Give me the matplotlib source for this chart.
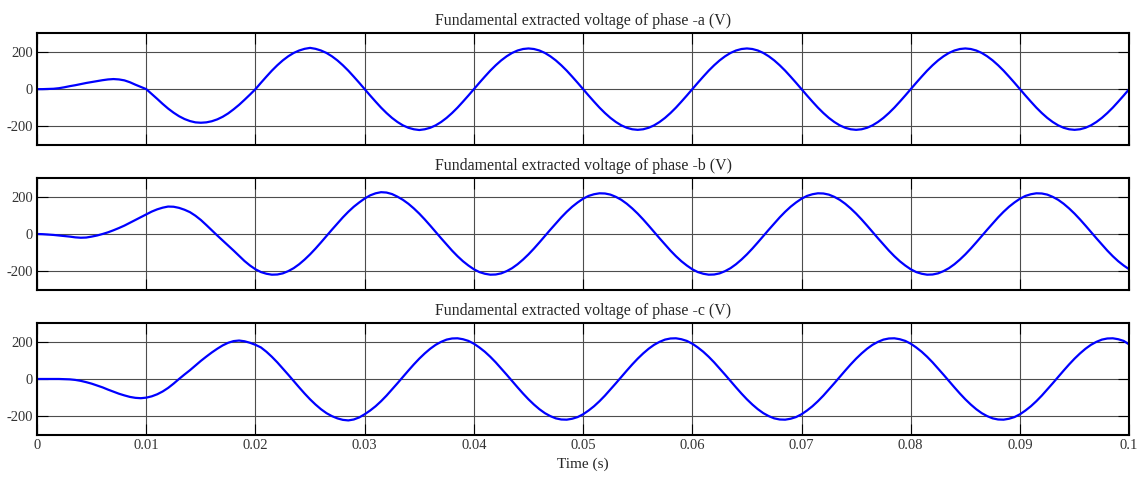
import numpy as np
import matplotlib
matplotlib.use("Agg")
import matplotlib.pyplot as plt

# time axis: 0 .. 0.1 s, one reading every 0.5 ms
time = np.arange(201) / 2000.0

# values (V), one row per 10 ms
phase_a = [
    0, 0, 1, 2, 5, 10, 16, 21, 27, 33, 38, 43, 48, 52, 54, 52, 47, 37, 24, 12,
    0, -26, -52, -79, -104, -126, -145, -160, -171, -178, -180, -178, -172, -162, -148, -130, -108, -84, -57, -29,
    0, 34, 67, 99, 128, 154, 176, 194, 207, 216, 221, 216, 207, 194, 176, 154, 128, 99, 67, 34,
    0, -34, -67, -99, -128, -154, -176, -194, -207, -215, -219, -215, -207, -194, -176, -154, -128, -99, -67, -34,
    0, 34, 67, 99, 128, 154, 176, 194, 207, 215, 218, 215, 207, 194, 176, 154, 128, 99, 67, 34,
    0, -34, -67, -99, -128, -154, -176, -194, -207, -215, -218, -215, -207, -194, -176, -154, -128, -99, -67, -34,
    0, 34, 67, 99, 128, 154, 176, 194, 207, 215, 218, 215, 207, 194, 176, 154, 128, 99, 67, 34,
    0, -34, -67, -99, -128, -154, -176, -194, -207, -215, -218, -215, -207, -194, -176, -154, -128, -99, -67, -34,
    0, 34, 67, 99, 128, 154, 176, 194, 207, 215, 218, 215, 207, 194, 176, 154, 128, 99, 67, 34,
    0, -34, -67, -99, -128, -154, -176, -194, -207, -215, -218, -215, -207, -194, -176, -154, -128, -99, -67, -34,
    0,
]

phase_b = [
    0, -1, -3, -5, -8, -11, -14, -18, -20, -19, -14, -8, 0, 9, 20, 32, 45, 60, 75, 90,
    105, 120, 132, 141, 147, 146, 140, 130, 117, 98, 75, 48, 20, -8, -35, -62, -89, -117, -145, -169,
    -189, -204, -213, -218, -217, -211, -199, -183, -162, -137, -109, -78, -45, -11, 23, 56, 89, 119, 146, 169,
    190, 207, 218, 224, 222, 214, 200, 183, 162, 137, 109, 78, 45, 11, -23, -56, -89, -119, -146, -169,
    -189, -204, -213, -218, -217, -211, -199, -183, -162, -137, -109, -78, -45, -11, 23, 56, 89, 119, 146, 169,
    189, 204, 213, 218, 217, 211, 199, 183, 162, 137, 109, 78, 45, 11, -23, -56, -89, -119, -146, -169,
    -189, -204, -213, -218, -217, -211, -199, -183, -162, -137, -109, -78, -45, -11, 23, 56, 89, 119, 146, 169,
    189, 204, 213, 218, 217, 211, 199, 183, 162, 137, 109, 78, 45, 11, -23, -56, -89, -119, -146, -169,
    -189, -204, -213, -218, -217, -211, -199, -183, -162, -137, -109, -78, -45, -11, 23, 56, 89, 119, 146, 169,
    189, 204, 213, 218, 217, 211, 199, 183, 162, 137, 109, 78, 45, 11, -23, -56, -89, -119, -146, -169,
    -189,
]

phase_c = [
    0, 0, 0, 0, 0, -1, -2, -5, -10, -17, -25, -35, -45, -57, -68, -79, -88, -96, -101, -103,
    -100, -93, -82, -67, -48, -25, 0, 24, 47, 72, 97, 120, 142, 162, 180, 194, 203, 206, 202, 194,
    183, 169, 146, 119, 89, 56, 23, -11, -45, -78, -109, -137, -162, -183, -199, -211, -219, -222, -217, -206,
    -189, -169, -146, -119, -89, -56, -23, 11, 45, 78, 109, 137, 162, 183, 199, 211, 217, 218, 213, 204,
    189, 169, 146, 119, 89, 56, 23, -11, -45, -78, -109, -137, -162, -183, -199, -211, -217, -218, -213, -204,
    -189, -169, -146, -119, -89, -56, -23, 11, 45, 78, 109, 137, 162, 183, 199, 211, 217, 218, 213, 204,
    189, 169, 146, 119, 89, 56, 23, -11, -45, -78, -109, -137, -162, -183, -199, -211, -217, -218, -213, -204,
    -189, -169, -146, -119, -89, -56, -23, 11, 45, 78, 109, 137, 162, 183, 199, 211, 217, 218, 213, 204,
    189, 169, 146, 119, 89, 56, 23, -11, -45, -78, -109, -137, -162, -183, -199, -211, -217, -218, -213, -204,
    -189, -169, -146, -119, -89, -56, -23, 11, 45, 78, 109, 137, 162, 183, 199, 211, 217, 218, 213, 204,
    185,
]

titles = [
    "Fundamental extracted voltage of phase -a (V)",
    "Fundamental extracted voltage of phase -b (V)",
    "Fundamental extracted voltage of phase -c (V)",
]
x_ticks = [0, 0.01, 0.02, 0.03, 0.04, 0.05, 0.06, 0.07, 0.08, 0.09, 0.1]
x_tick_labels = ["0", "0.01", "0.02", "0.03", "0.04", "0.05", "0.06", "0.07", "0.08", "0.09", "0.1"]
y_ticks = [-200, 0, 200]

plt.rcParams["font.family"] = ["Liberation Serif", "DejaVu Serif"]
plt.rcParams["axes.unicode_minus"] = False

fig = plt.figure(figsize=(11.4, 4.79), dpi=100)
bottoms = [0.697, 0.3946, 0.0919]
series = [phase_a, phase_b, phase_c]

for i, (b, y, title) in enumerate(zip(bottoms, series, titles)):
    ax = fig.add_axes([0.0325, b, 0.958, 0.2338])
    ax.plot(time, y, color="#0000ff", linewidth=1.6)
    ax.set_xlim(0, 0.1)
    ax.set_ylim(-300, 300)
    ax.set_xticks(x_ticks)
    ax.set_yticks(y_ticks)
    ax.grid(True, color="0.3", linewidth=0.8)
    ax.tick_params(direction="in", length=8, width=0.8, top=True, right=True,
                   labelsize=10.5, colors="black", labelcolor="0.2", pad=3)
    for s in ax.spines.values():
        s.set_linewidth(1.5)
    ax.set_title(title, fontsize=11.4, color="0.15", pad=6)
    if i < 2:
        ax.set_xticklabels([])
    else:
        ax.set_xticklabels(x_tick_labels)
        ax.set_xlabel("Time (s)", fontsize=11, color="0.15", labelpad=4)

fig.savefig("out.png", dpi=100)
